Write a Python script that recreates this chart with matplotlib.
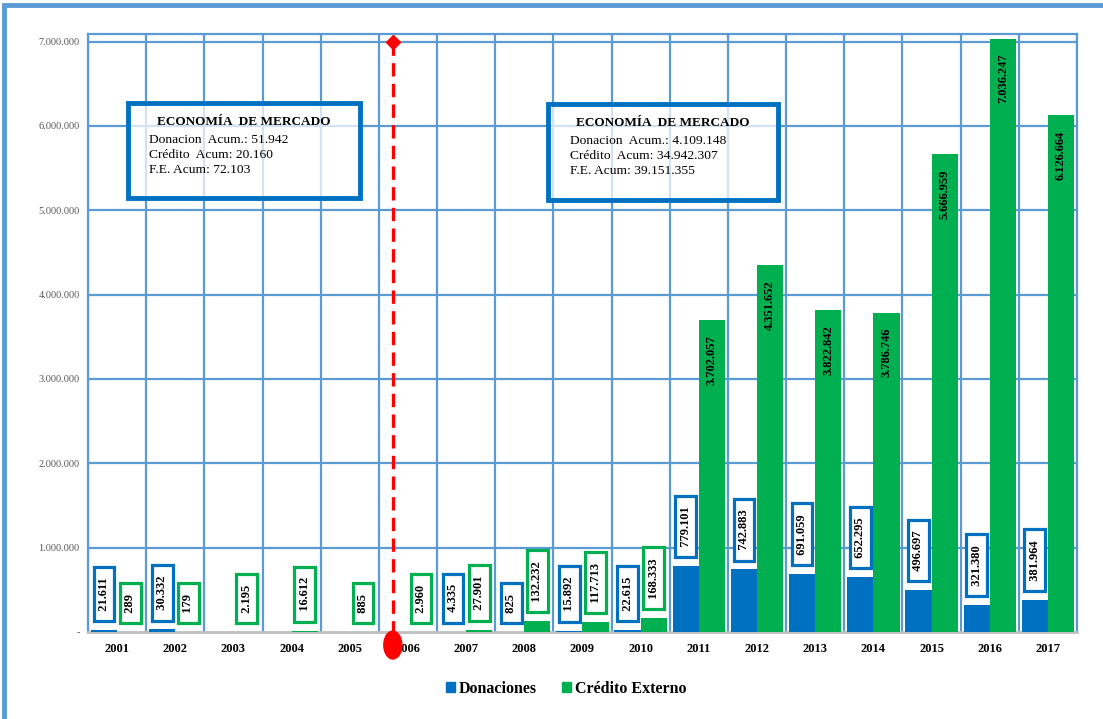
import matplotlib
matplotlib.use("Agg")
import matplotlib.pyplot as plt
import numpy as np
from matplotlib.patches import Rectangle, Ellipse, Patch
from matplotlib.ticker import FuncFormatter

# Data
years = ['2001', '2002', '2003', '2004', '2005', '2006', '2007', '2008', '2009',
         '2010', '2011', '2012', '2013', '2014', '2015', '2016', '2017']
donaciones = [21611, 30332, 0, 0, 0, 0, 4335, 825, 15892, 22615,
              779101, 742883, 691059, 652295, 496697, 321380, 381964]
credito = [289, 179, 2195, 16612, 885, 2960, 27901, 132232, 117713, 168333,
           3702057, 4351652, 3822842, 3786746, 5666959, 7036247, 6126664]

box_left = ['ECONOMÍA  DE MERCADO', 'Donacion  Acum.: 51.942',
            'Crédito  Acum: 20.160', 'F.E. Acum: 72.103']
box_right = ['ECONOMÍA  DE MERCADO', 'Donacion  Acum.: 4.109.148',
             'Crédito  Acum: 34.942.307', 'F.E. Acum: 39.151.355']

BLUE = '#0070C0'
GREEN = '#00B050'
GRID = '#5B9BD5'
SERIF = 'Liberation Serif'

plt.rcParams['font.family'] = SERIF

fig = plt.figure(figsize=(11.03, 7.19), dpi=100)
ax = fig.add_axes([0.0798, 0.121, 0.8966, 0.8317])

x = np.arange(len(years))
w = 0.45
ax.bar(x - 0.225, donaciones, w, color=BLUE, zorder=3, label='Donaciones')
ax.bar(x + 0.225, credito, w, color=GREEN, zorder=3, label='Crédito Externo')

def fmt(v):
    return '{:,}'.format(int(v)).replace(',', '.')

# value labels (spaces give the boxes their extra length)
for i in range(len(years)):
    d = donaciones[i]
    if d > 0:
        ax.annotate('  ' + fmt(d) + '  ', (x[i] - 0.225, d), xytext=(0, 9.5),
                    textcoords='offset points', rotation=90, ha='center', va='bottom',
                    fontsize=9, fontweight='bold', zorder=5,
                    bbox=dict(boxstyle='square,pad=0.35', fc='white', ec=BLUE, lw=2.3))
    c = credito[i]
    if c > 3000000:
        ax.annotate(fmt(c), (x[i] + 0.225, c), xytext=(0, -11), textcoords='offset points',
                    rotation=90, ha='center', va='top', fontsize=9, fontweight='bold',
                    zorder=5,
                    bbox=dict(boxstyle='square,pad=0.35', fc=GREEN, ec=GREEN, lw=2.3))
    else:
        ax.annotate('  ' + fmt(c) + '  ', (x[i] + 0.225, c), xytext=(0, 9.5),
                    textcoords='offset points', rotation=90, ha='center', va='bottom',
                    fontsize=9, fontweight='bold', zorder=5,
                    bbox=dict(boxstyle='square,pad=0.35', fc='white', ec=GREEN, lw=2.3))

# grid
ax.set_xlim(-0.5, len(years) - 0.5)
ax.set_ylim(0, 7.09e6)
ax.set_yticks(np.arange(0, 7.5e6, 1e6))
ax.set_xticks(x)
ax.set_xticklabels(years, fontsize=9, fontweight='bold')
ax.yaxis.set_major_formatter(FuncFormatter(lambda v, p: '-' if v == 0 else fmt(v)))
for lab in ax.get_yticklabels():
    lab.set_fontsize(7.5)
    lab.set_color('#595959')
ax.tick_params(axis='y', length=0, pad=6)
ax.tick_params(axis='x', length=0, pad=8)
for b in np.arange(-0.5, len(years), 1):
    ax.axvline(b, color=GRID, lw=1.6, zorder=1)
for yv in np.arange(1e6, 7.5e6, 1e6):
    ax.axhline(yv, color=GRID, lw=1.6, zorder=1)
for s in ['left', 'top', 'right']:
    ax.spines[s].set_color(GRID)
    ax.spines[s].set_linewidth(1.6)
ax.spines['bottom'].set_color('#BFBFBF')
ax.spines['bottom'].set_linewidth(2)

# red separation line
xr = 4.74
ax.plot([xr, xr], [7.0e6, -0.1e6], color='red', lw=2.4, ls=(0, (4, 2.2)),
        zorder=6, clip_on=False)
ax.plot([xr], [7.0e6], marker='D', color='red', markersize=7, zorder=7, clip_on=False)
ax.add_patch(Ellipse((xr, -0.155e6), 0.31, 0.33e6, color='red', zorder=7, clip_on=False))

# accumulated boxes
def info_box(x0, y0, x1, y1, lines, tx, ty):
    ax.add_patch(Rectangle((x0, y0), x1 - x0, y1 - y0, transform=ax.transAxes,
                           fc='white', alpha=0.72, ec='none', zorder=8))
    ax.add_patch(Rectangle((x0, y0), x1 - x0, y1 - y0, transform=ax.transAxes,
                           fc='none', ec=BLUE, lw=3.5, zorder=9))
    ax.text(tx, ty, lines[0], transform=ax.transAxes, fontsize=9.5, fontweight='bold',
            ha='center', va='center', zorder=10)
    for k, ln in enumerate(lines[1:]):
        ax.text(x0 + 0.022, ty - 0.03 - k * 0.025, ln, transform=ax.transAxes,
                fontsize=9.7, ha='left', va='center', zorder=10)

info_box(0.040, 0.726, 0.275, 0.885, box_left, 0.157, 0.853)
info_box(0.465, 0.722, 0.698, 0.883, box_right, 0.581, 0.851)

# legend
handles = [Patch(color=BLUE, label='Donaciones'), Patch(color=GREEN, label='Crédito Externo')]
fig.legend(handles=handles, loc='center', bbox_to_anchor=(0.513, 0.042), ncol=2,
           frameon=False, handlelength=0.6, handleheight=0.6, handletextpad=0.2,
           columnspacing=1.6, prop={'family': SERIF, 'weight': 'bold', 'size': 11.5})

# outer frame
fig.patches.append(Rectangle((0.004, -0.02), 1.05, 1.013, transform=fig.transFigure,
                             fill=False, ec=GRID, lw=3.5))

fig.savefig('out.png', dpi=100)
